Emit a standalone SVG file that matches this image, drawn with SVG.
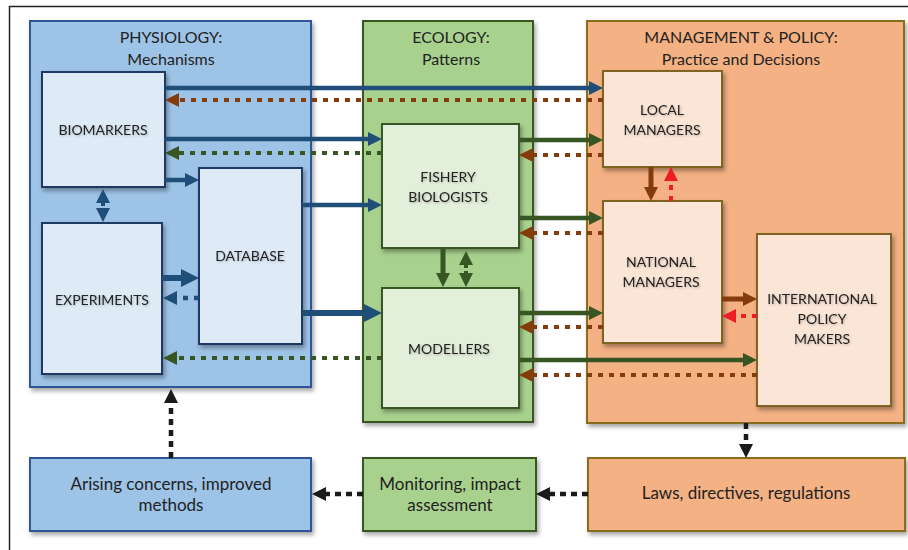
<svg xmlns="http://www.w3.org/2000/svg" width="908" height="550" viewBox="0 0 908 550">
<defs>
<style>
.t{font-family:Lato,"Open Sans","Liberation Sans",sans-serif;fill:#222;text-anchor:middle}
.title{font-size:16px}
.lab{font-size:14px}
.big{font-size:17px}
.pp{fill:#9DC3E6;stroke:#2F5496;stroke-width:2}
.pb{fill:#DEEBF7;stroke:#1F3864;stroke-width:2}
.ep{fill:#A9D18E;stroke:#385723;stroke-width:2}
.eb{fill:#E2EFDA;stroke:#385723;stroke-width:2}
.mp{fill:#F4B183;stroke:#8A6D1E;stroke-width:2}
.mb{fill:#FBE5D6;stroke:#7F6321;stroke-width:2}
.c{fill:none;stroke-linecap:butt}
.blue{stroke:#1F4E79}
.green{stroke:#375623}
.brown{stroke:#843C0C}
.red{stroke:#EE1C25}
.black{stroke:#1A1A1A}
.dot{stroke-dasharray:5 6}
.kdot{stroke-dasharray:6 5}
</style>
<filter id="sh" x="-10%" y="-10%" width="125%" height="125%">
<feDropShadow dx="2" dy="3" stdDeviation="2" flood-color="#000" flood-opacity="0.35"/>
</filter>
<filter id="ts" x="-10%" y="-30%" width="120%" height="160%">
<feDropShadow dx="1" dy="1" stdDeviation="1" flood-color="#000" flood-opacity="0.25"/>
</filter>
<marker id="mBlue" markerUnits="userSpaceOnUse" viewBox="0 0 14 14" markerWidth="14" markerHeight="14" refX="1" refY="7" orient="auto-start-reverse"><path d="M0,0 L14,7 L0,14z" fill="#1F4E79"/></marker>
<marker id="mBlueB" markerUnits="userSpaceOnUse" viewBox="0 0 18 18" markerWidth="18" markerHeight="18" refX="1" refY="9" orient="auto-start-reverse"><path d="M0,0 L18,9 L0,18z" fill="#1F4E79"/></marker>
<marker id="mGreen" markerUnits="userSpaceOnUse" viewBox="0 0 14 14" markerWidth="14" markerHeight="14" refX="1" refY="7" orient="auto-start-reverse"><path d="M0,0 L14,7 L0,14z" fill="#375623"/></marker>
<marker id="mBrown" markerUnits="userSpaceOnUse" viewBox="0 0 14 14" markerWidth="14" markerHeight="14" refX="1" refY="7" orient="auto-start-reverse"><path d="M0,0 L14,7 L0,14z" fill="#843C0C"/></marker>
<marker id="mRed" markerUnits="userSpaceOnUse" viewBox="0 0 14 14" markerWidth="14" markerHeight="14" refX="1" refY="7" orient="auto-start-reverse"><path d="M0,0 L14,7 L0,14z" fill="#EE1C25"/></marker>
<marker id="mBlack" markerUnits="userSpaceOnUse" viewBox="0 0 14 14" markerWidth="14" markerHeight="14" refX="1" refY="7" orient="auto-start-reverse"><path d="M0,0 L14,7 L0,14z" fill="#1A1A1A"/></marker>
</defs>
<rect width="908" height="550" fill="#fff"/>
<rect x="9.5" y="6.5" width="920" height="570" fill="none" stroke="#222" stroke-width="1.5"/>

<g id="physiology">
<rect class="pp" x="30" y="21" width="281" height="366" filter="url(#sh)"/>
<text class="t title" x="171" y="43">PHYSIOLOGY:</text>
<text class="t title" x="171" y="65">Mechanisms</text>
</g>
<g id="ecology">
<rect class="ep" x="363" y="21" width="170" height="401" filter="url(#sh)"/>
<text class="t title" x="451" y="43">ECOLOGY:</text>
<text class="t title" x="451" y="65">Patterns</text>
</g>
<g id="management">
<rect class="mp" x="587" y="21" width="317" height="402" filter="url(#sh)"/>
<text class="t title" x="741" y="43">MANAGEMENT &amp; POLICY:</text>
<text class="t title" x="741" y="65">Practice and Decisions</text>
</g>

<g id="biomarkers">
<rect class="pb" x="42" y="72" width="123" height="115" filter="url(#sh)"/>
<text class="t lab" x="103" y="135" filter="url(#ts)">BIOMARKERS</text>
</g>
<g id="database">
<rect class="pb" x="199" y="168" width="103" height="176" filter="url(#sh)"/>
<text class="t lab" x="250" y="261" filter="url(#ts)">DATABASE</text>
</g>
<g id="experiments">
<rect class="pb" x="42" y="223" width="120" height="151" filter="url(#sh)"/>
<text class="t lab" x="102" y="305" filter="url(#ts)">EXPERIMENTS</text>
</g>
<g id="fishery-biologists">
<rect class="eb" x="382" y="124" width="137" height="124" filter="url(#sh)"/>
<text class="t lab" x="448" y="182" filter="url(#ts)">FISHERY</text>
<text class="t lab" x="448" y="202" filter="url(#ts)">BIOLOGISTS</text>
</g>
<g id="modellers">
<rect class="eb" x="382" y="288" width="137" height="120" filter="url(#sh)"/>
<text class="t lab" x="449" y="354" filter="url(#ts)">MODELLERS</text>
</g>
<g id="local-managers">
<rect class="mb" x="603" y="71" width="119" height="96" filter="url(#sh)"/>
<text class="t lab" x="662" y="115" filter="url(#ts)">LOCAL</text>
<text class="t lab" x="662" y="135" filter="url(#ts)">MANAGERS</text>
</g>
<g id="national-managers">
<rect class="mb" x="603" y="201" width="119" height="142" filter="url(#sh)"/>
<text class="t lab" x="661" y="267" filter="url(#ts)">NATIONAL</text>
<text class="t lab" x="661" y="287" filter="url(#ts)">MANAGERS</text>
</g>
<g id="international-policy-makers">
<rect class="mb" x="757" y="234" width="134" height="172" filter="url(#sh)"/>
<text class="t lab" x="822" y="304" filter="url(#ts)">INTERNATIONAL</text>
<text class="t lab" x="822" y="324" filter="url(#ts)">POLICY</text>
<text class="t lab" x="822" y="344" filter="url(#ts)">MAKERS</text>
</g>

<g id="arising-concerns">
<rect class="pp" x="30" y="458" width="281" height="73" filter="url(#sh)"/>
<text class="t big" x="171" y="490">Arising concerns, improved</text>
<text class="t big" x="171" y="511">methods</text>
</g>
<g id="monitoring">
<rect class="ep" x="363" y="458" width="173" height="73" filter="url(#sh)"/>
<text class="t big" x="450" y="490">Monitoring, impact</text>
<text class="t big" x="450" y="511">assessment</text>
</g>
<g id="laws">
<rect class="mp" x="588" y="458" width="317" height="73" filter="url(#sh)"/>
<text class="t big" x="746" y="499">Laws, directives, regulations</text>
</g>

<g id="connectors">
<line class="c blue" stroke-width="4.5" x1="165" y1="88" x2="590" y2="88" marker-end="url(#mBlue)"/>
<line class="c blue" stroke-width="4.5" x1="165" y1="139" x2="369" y2="139" marker-end="url(#mBlue)"/>
<line class="c blue" stroke-width="4.5" x1="165" y1="180" x2="186" y2="180" marker-end="url(#mBlue)"/>
<line class="c blue" stroke-width="4.5" x1="302" y1="205" x2="369" y2="205" marker-end="url(#mBlue)"/>
<line class="c blue" stroke-width="6" x1="302" y1="313" x2="365" y2="313" marker-end="url(#mBlueB)"/>
<line class="c blue" stroke-width="6" x1="162" y1="278" x2="182" y2="278" marker-end="url(#mBlueB)"/>
<line class="c blue dot" stroke-width="4.5" x1="199" y1="298" x2="176" y2="298" marker-end="url(#mBlue)"/>
<line class="c blue" stroke-width="4" stroke-dasharray="4 3" x1="103" y1="202" x2="103" y2="209" marker-start="url(#mBlue)" marker-end="url(#mBlue)"/>
<line class="c brown dot" stroke-width="4" x1="603" y1="100" x2="178" y2="100" marker-end="url(#mBrown)"/>
<line class="c brown dot" stroke-width="4" x1="603" y1="155" x2="532" y2="155" marker-end="url(#mBrown)"/>
<line class="c brown dot" stroke-width="4" x1="603" y1="233" x2="532" y2="233" marker-end="url(#mBrown)"/>
<line class="c brown dot" stroke-width="4" x1="603" y1="327" x2="532" y2="327" marker-end="url(#mBrown)"/>
<line class="c brown dot" stroke-width="4" x1="757" y1="375" x2="532" y2="375" marker-end="url(#mBrown)"/>
<line class="c green" stroke-width="4.5" x1="519" y1="140" x2="590" y2="140" marker-end="url(#mGreen)"/>
<line class="c green" stroke-width="4.5" x1="519" y1="218" x2="590" y2="218" marker-end="url(#mGreen)"/>
<line class="c green" stroke-width="4.5" x1="519" y1="313" x2="590" y2="313" marker-end="url(#mGreen)"/>
<line class="c green" stroke-width="4.5" x1="519" y1="360" x2="744" y2="360" marker-end="url(#mGreen)"/>
<line class="c green dot" stroke-width="4" x1="382" y1="153" x2="178" y2="153" marker-end="url(#mGreen)"/>
<line class="c green dot" stroke-width="4" x1="382" y1="358" x2="176" y2="358" marker-end="url(#mGreen)"/>
<line class="c green" stroke-width="5" x1="443" y1="248" x2="443" y2="274" marker-end="url(#mGreen)"/>
<line class="c green" stroke-width="4" stroke-dasharray="4 3" x1="466" y1="264" x2="466" y2="274" marker-start="url(#mGreen)" marker-end="url(#mGreen)"/>
<line class="c brown" stroke-width="5" x1="651" y1="167" x2="651" y2="188" marker-end="url(#mBrown)"/>
<line class="c red dot" stroke-width="4" x1="671" y1="201" x2="671" y2="180" marker-end="url(#mRed)"/>
<line class="c brown" stroke-width="5" x1="722" y1="299" x2="744" y2="299" marker-end="url(#mBrown)"/>
<line class="c red dot" stroke-width="4" x1="757" y1="316" x2="735" y2="316" marker-end="url(#mRed)"/>
<line class="c black kdot" stroke-width="4.5" x1="171" y1="458" x2="171" y2="402" marker-end="url(#mBlack)"/>
<line class="c black kdot" stroke-width="4.5" x1="363" y1="494" x2="325" y2="494" marker-end="url(#mBlack)"/>
<line class="c black kdot" stroke-width="4.5" x1="588" y1="494" x2="549" y2="494" marker-end="url(#mBlack)"/>
<line class="c black kdot" stroke-width="4.5" x1="746" y1="423" x2="746" y2="445" marker-end="url(#mBlack)"/>
</g>
</svg>
